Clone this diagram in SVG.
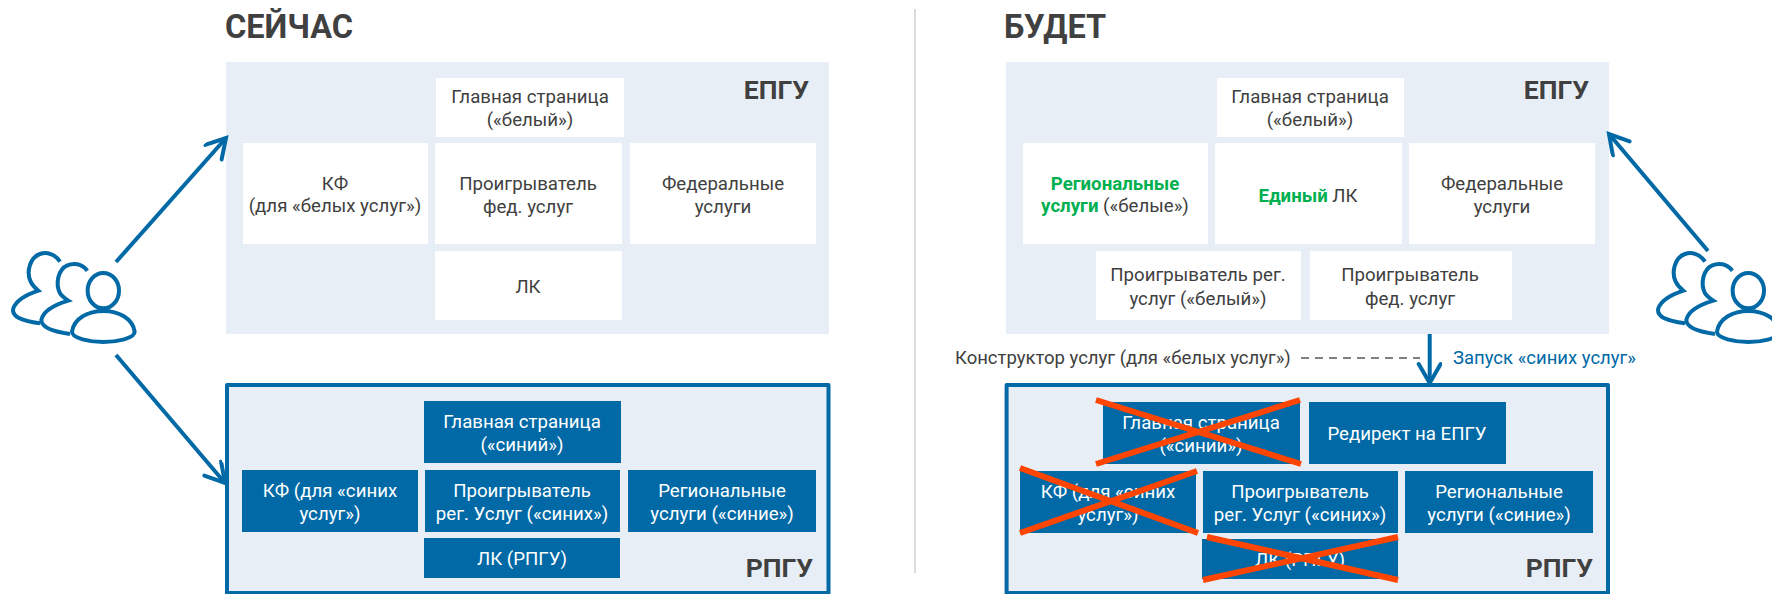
<svg xmlns="http://www.w3.org/2000/svg" width="1772" height="594" viewBox="0 0 1772 594">
<style>
text{font-family:Roboto,"Liberation Sans",sans-serif;font-size:18.67px;fill:#404040;text-anchor:middle}
.h{font-weight:700;font-size:32.500px;text-anchor:start}
.l{font-weight:700;font-size:26.500px;text-anchor:end}
.p{fill:#e8eef6}
.r{fill:#e8eef6;stroke:#0069a6;stroke-width:4;stroke-linejoin:round}
.w{fill:#fff}
.b{fill:#0069a6}
text.t{fill:#fff}
.g{fill:#00b050;font-weight:700}
.c{stroke:#0069a6;stroke-width:4;fill:none}
.x{stroke:#ff4500;stroke-width:6;fill:none}
.u{stroke:#0069a6;stroke-width:12;fill:none}
.s{font-size:18.500px;text-anchor:start}
</style>
<defs>
<marker id="a" markerUnits="userSpaceOnUse" markerWidth="30" markerHeight="30" refX="22" refY="12" orient="auto"><path d="M3 1L22 12L3 23" fill="none" stroke="#0069a6" stroke-width="4" stroke-linecap="round"/></marker>
<g id="users" class="u">
<path d="M180 95C165 72 140 65 120 72C90 82 78 125 92 155C98 168 108 176 115 182C85 192 50 208 40 235C34 258 60 272 120 280"/>
<path d="M262 122C245 100 220 98 202 106C175 118 165 160 180 190C186 200 196 206 205 212C165 224 130 240 124 270C124 292 160 305 210 312"/>
<ellipse cx="310" cy="182" rx="47" ry="53"/>
<path d="M216 305C222 265 265 243 310 243C355 243 398 265 404 305C405 325 350 336 310 336C270 336 215 325 216 305Z"/>
</g>
</defs>
<rect id="divider" x="914" y="9" width="2" height="564" fill="#dcdcdc"/>
<text class="h" x="225" y="38">СЕЙЧАС</text>
<text class="h" x="1004" y="38">БУДЕТ</text>
<g id="epgu-now"><rect class="p" x="226" y="62" width="603" height="272"/><text class="l" x="809" y="99">ЕПГУ</text></g>
<g id="rpgu-now"><rect class="r" x="227" y="385" width="601.500" height="208"/><text class="l" x="813" y="577">РПГУ</text></g>
<g id="epgu-next"><rect class="p" x="1006" y="62" width="603" height="272"/><text class="l" x="1589" y="99">ЕПГУ</text></g>
<g id="rpgu-next"><rect class="r" x="1006.600" y="385" width="601.400" height="208"/><text class="l" x="1593" y="577">РПГУ</text></g>

<g id="n1"><rect class="w" x="436" y="78" width="188" height="59"/><text x="530" y="103">Главная страница</text><text x="530" y="126">(«белый»)</text></g>
<g id="n2"><rect class="w" x="243" y="143" width="185" height="101"/><text x="335" y="189.500">КФ</text><text x="335" y="212">(для «белых услуг»)</text></g>
<g id="n3"><rect class="w" x="435" y="143" width="187" height="101"/><text x="528" y="189.500">Проигрыватель</text><text x="528" y="212.500">фед. услуг</text></g>
<g id="n4"><rect class="w" x="630" y="143" width="186" height="101"/><text x="723" y="189.500">Федеральные</text><text x="723" y="212.500">услуги</text></g>
<g id="n5"><rect class="w" x="435" y="251" width="187" height="69"/><text x="528" y="293">ЛК</text></g>

<g id="n6"><rect class="b" x="424" y="401" width="197" height="62"/><text class="t" x="522" y="428">Главная страница</text><text class="t" x="522" y="451">(«синий»)</text></g>
<g id="n7"><rect class="b" x="242" y="470" width="176" height="62"/><text class="t" x="330" y="497">КФ (для «синих</text><text class="t" x="330" y="520">услуг»)</text></g>
<g id="n8"><rect class="b" x="425" y="470" width="195" height="62"/><text class="t" x="522" y="497">Проигрыватель</text><text class="t" x="522" y="520">рег. Услуг («синих»)</text></g>
<g id="n9"><rect class="b" x="628" y="470" width="188" height="62"/><text class="t" x="722" y="497">Региональные</text><text class="t" x="722" y="520">услуги («синие»)</text></g>
<g id="n10"><rect class="b" x="424" y="538" width="196" height="40"/><text class="t" x="522" y="565">ЛК (РПГУ)</text></g>

<g id="n11"><rect class="w" x="1217" y="78" width="187" height="59"/><text x="1310" y="103">Главная страница</text><text x="1310" y="126">(«белый»)</text></g>
<g id="n12"><rect class="w" x="1023" y="143" width="185" height="101"/><text x="1115" y="189.500"><tspan class="g">Региональные</tspan></text><text x="1115" y="212"><tspan class="g">услуги</tspan> («белые»)</text></g>
<g id="n13"><rect class="w" x="1215" y="143" width="187" height="101"/><text x="1308" y="202"><tspan class="g">Единый</tspan> ЛК</text></g>
<g id="n14"><rect class="w" x="1409" y="143" width="186" height="101"/><text x="1502" y="189.500">Федеральные</text><text x="1502" y="212.500">услуги</text></g>
<g id="n15"><rect class="w" x="1096" y="251" width="205" height="69"/><text x="1198" y="281">Проигрыватель рег.</text><text x="1198" y="304.500">услуг («белый»)</text></g>
<g id="n16"><rect class="w" x="1310" y="251" width="202" height="69"/><text x="1410" y="281">Проигрыватель</text><text x="1410" y="304.500">фед. услуг</text></g>

<g id="n17"><rect class="b" x="1103" y="402" width="197" height="62"/><text class="t" x="1201" y="429">Главная страница</text><text class="t" x="1201" y="452">(«синий»)</text></g>
<g id="n18"><rect class="b" x="1309" y="402" width="197" height="62"/><text class="t" x="1407" y="440">Редирект на ЕПГУ</text></g>
<g id="n19"><rect class="b" x="1020" y="471" width="176" height="62"/><text class="t" x="1108" y="498">КФ (для «синих</text><text class="t" x="1108" y="521">услуг»)</text></g>
<g id="n20"><rect class="b" x="1203" y="471" width="195" height="62"/><text class="t" x="1300" y="498">Проигрыватель</text><text class="t" x="1300" y="521">рег. Услуг («синих»)</text></g>
<g id="n21"><rect class="b" x="1405" y="471" width="188" height="62"/><text class="t" x="1499" y="498">Региональные</text><text class="t" x="1499" y="521">услуги («синие»)</text></g>
<g id="n22"><rect class="b" x="1202" y="539" width="196" height="40"/><text class="t" x="1300" y="566">ЛК (РПГУ)</text></g>

<g id="crosses">
<path class="x" d="M1096 400L1301 464M1096 464L1300 400"/>
<path class="x" d="M1020 468L1198 533M1020 533L1197 471"/>
<path class="x" d="M1207 537L1398 580M1203 580L1398 537"/>
</g>

<g id="users-now" transform="translate(0 230) scale(.3333)"><use href="#users"/></g>
<g id="users-next" transform="translate(1645 230) scale(.3333)"><use href="#users"/></g>

<g id="connectors">
<path class="c" d="M116 262L226 138" marker-end="url(#a)"/>
<path class="c" d="M116 355L225 483" marker-end="url(#a)"/>
<path class="c" d="M1708 251L1609 134" marker-end="url(#a)"/>
<path class="c" d="M1429.700 334V383" marker-end="url(#a)"/>
<path d="M1301 358H1420" stroke="#7f7f7f" stroke-width="2" stroke-dasharray="8 6" fill="none"/>
</g>
<text id="lbl1" class="s" x="955" y="364">Конструктор услуг (для «белых услуг»)</text>
<text id="lbl2" class="s" x="1453" y="364" style="fill:#0069a6">Запуск «синих услуг»</text>
</svg>
